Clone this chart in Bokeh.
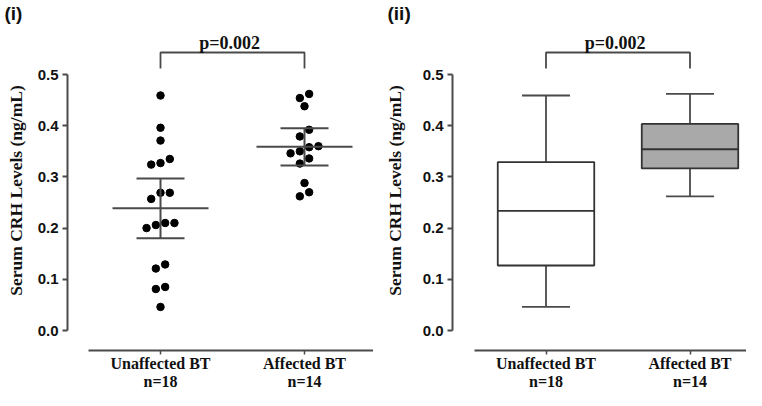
import numpy as np
from bokeh.plotting import figure
from bokeh.layouts import row
from bokeh.models import Range1d, FixedTicker, Label, NumeralTickFormatter
from bokeh.embed import file_html
from bokeh.resources import INLINE

# ---------------- data ----------------
categories = ["Unaffected BT", "Affected BT"]
n_labels = ["n=18", "n=14"]
unaffected = [0.459, 0.396, 0.371, 0.327, 0.324, 0.335, 0.269, 0.269, 0.257,
              0.210, 0.206, 0.200, 0.210, 0.121, 0.129, 0.085, 0.081, 0.046]
affected = [0.454, 0.462, 0.438, 0.392, 0.379, 0.360, 0.358, 0.350, 0.346,
            0.336, 0.326, 0.288, 0.262, 0.270]
t_975 = {17: 2.110, 13: 2.160}          # t quantiles for the 95% CI
p_text = "p=0.002"
y_ticks = [0.0, 0.1, 0.2, 0.3, 0.4, 0.5]
panel_labels = ["(i)", "(ii)"]
y_label = "Serum CRH Levels (ng/mL)"

groups = [unaffected, affected]
xpos = [1, 2]

# ---------------- style / layout ----------------
AX = "#4a4a4a"
TXT = "#111111"
SERIF = "Liberation Serif"
SANS = "Liberation Sans"
W, H = 373, 390
PX = 144.0          # px per category unit
PY = 512.0          # px per y unit
ZERO_Y = 330.0      # canvas y of value 0.0
Y0 = (ZERO_Y - H) / PY
Y1 = ZERO_Y / PY
X_AXIS_AT = -19.5 / PY


def vy(canvas_y):
    return (ZERO_Y - canvas_y) / PY


def swarm(vals, thresh=0.015, step=9.3 / PX):
    v = np.asarray(vals)
    order = np.argsort(v, kind="stable")
    offs = np.zeros(len(v))
    i = 0
    while i < len(order):
        j = i
        while j + 1 < len(order) and v[order[j + 1]] - v[order[i]] < thresh:
            j += 1
        n = j - i + 1
        for k in range(n):
            offs[order[i + k]] = (k - (n - 1) / 2) * step
        i = j + 1
    return offs


def make_fig(c1, axis_x, panel_label, label_x, ylabel_x):
    # c1: canvas x of category 1
    ux = lambda cx: 1 + (cx - c1) / PX
    x_end = ux(W)
    p = figure(width=W, height=H,
               x_range=Range1d(ux(0), x_end), y_range=Range1d(Y0, Y1),
               output_backend="svg", toolbar_location=None,
               min_border_left=0, min_border_right=0,
               min_border_top=0, min_border_bottom=0)
    p.outline_line_color = None
    p.xgrid.visible = False
    p.ygrid.visible = False

    # y axis
    p.yaxis.fixed_location = ux(axis_x)
    p.yaxis.ticker = FixedTicker(ticks=y_ticks)
    p.yaxis.formatter = NumeralTickFormatter(format="0.0")
    p.yaxis.bounds = (0, 0.5)
    p.yaxis.axis_line_color = AX
    p.yaxis.axis_line_width = 2
    p.yaxis.major_tick_line_color = AX
    p.yaxis.major_tick_line_width = 2
    p.yaxis.major_tick_out = 5
    p.yaxis.major_tick_in = 0
    p.yaxis.minor_tick_line_color = None
    p.yaxis.major_label_standoff = 4
    p.yaxis.major_label_text_font = SANS
    p.yaxis.major_label_text_font_style = "bold"
    p.yaxis.major_label_text_font_size = "15px"
    p.yaxis.major_label_text_color = TXT

    # x axis
    p.xaxis.fixed_location = X_AXIS_AT
    p.xaxis.ticker = FixedTicker(ticks=xpos)
    p.xaxis.major_label_overrides = {x: f"{c}\n{n}" for x, c, n in zip(xpos, categories, n_labels)}
    p.xaxis.bounds = (0.5, x_end)
    p.xaxis.axis_line_color = AX
    p.xaxis.axis_line_width = 2
    p.xaxis.major_tick_line_color = AX
    p.xaxis.major_tick_line_width = 1.5
    p.xaxis.major_tick_out = 4
    p.xaxis.major_tick_in = 0
    p.xaxis.minor_tick_line_color = None
    p.xaxis.major_label_standoff = 1
    p.xaxis.major_label_text_font = SERIF
    p.xaxis.major_label_text_font_style = "bold"
    p.xaxis.major_label_text_font_size = "16px"
    p.xaxis.major_label_text_line_height = 1.08
    p.xaxis.major_label_text_color = TXT

    # significance bracket
    p.multi_line(xs=[[xpos[0], xpos[0], xpos[1], xpos[1]]],
                 ys=[[vy(68), vy(52), vy(52), vy(68)]], line_color=AX, line_width=1.8)
    p.add_layout(Label(x=1.48, y=vy(42), text=p_text, text_align="center",
                       text_baseline="alphabetic", text_font=SERIF,
                       text_font_style="bold", text_font_size="18px", text_color=TXT))
    # panel label
    p.add_layout(Label(x=ux(label_x), y=vy(13), text=panel_label, text_align="left",
                       text_baseline="middle", text_font=SANS,
                       text_font_style="bold", text_font_size="19px", text_color=TXT))
    # y axis title
    p.add_layout(Label(x=ux(ylabel_x), y=vy(190), text=y_label, angle=np.pi / 2,
                       text_align="center", text_baseline="middle", text_font=SERIF,
                       text_font_style="bold", text_font_size="17.5px", text_color=TXT))
    return p


# ---------------- panel (i): scatter dot plot with mean and 95% CI ----------------
p1 = make_fig(160, 67, panel_labels[0], 4, 15)
for x, vals in zip(xpos, groups):
    v = np.asarray(vals)
    offs = swarm(v)
    p1.scatter(x + offs, v, size=7.5, color="black", line_color="black")
    m = v.mean()
    half = t_975[len(v) - 1] * v.std(ddof=1) / np.sqrt(len(v))
    lo, hi = m - half, m + half
    p1.segment(x0=[x], y0=[lo], x1=[x], y1=[hi], line_color=AX, line_width=2)
    p1.segment(x0=[x - 1 / 6, x - 1 / 6], y0=[lo, hi], x1=[x + 1 / 6, x + 1 / 6], y1=[lo, hi],
               line_color=AX, line_width=2)
    p1.segment(x0=[x - 1 / 3], y0=[m], x1=[x + 1 / 3], y1=[m], line_color=AX, line_width=2)

# ---------------- panel (ii): box and whiskers (min to max) ----------------
p2 = make_fig(545.5 - W, 452 - W, panel_labels[1], 387 - W, 394 - W)
box_fill = ["white", "#a9a9a9"]
for x, vals, fill in zip(xpos, groups, box_fill):
    v = np.asarray(vals)
    q1, med, q3 = np.percentile(v, [25, 50, 75], method="weibull")
    lo, hi = v.min(), v.max()
    p2.segment(x0=[x, x], y0=[q3, q1], x1=[x, x], y1=[hi, lo], line_color=AX, line_width=1.8)
    p2.segment(x0=[x - 1 / 6, x - 1 / 6], y0=[hi, lo], x1=[x + 1 / 6, x + 1 / 6], y1=[hi, lo],
               line_color=AX, line_width=1.8)
    p2.vbar(x=[x], width=0.67, bottom=[q1], top=[q3], fill_color=fill,
            line_color="#333333", line_width=1.8)
    p2.segment(x0=[x - 0.335], y0=[med], x1=[x + 0.335], y1=[med], line_color="#333333", line_width=1.8)

layout = row(p1, p2)
open("out.html", "w").write(file_html(layout, INLINE))
